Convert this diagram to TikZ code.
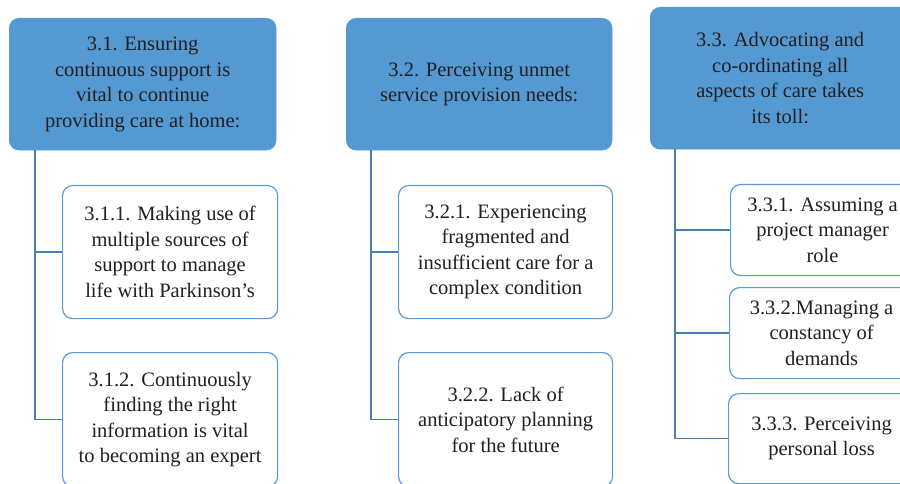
\documentclass[tikz,border=0pt]{standalone}
\usepackage{fontspec}
\setmainfont{Liberation Serif}
\definecolor{headblue}{HTML}{5599D3}
\definecolor{edgeblue}{HTML}{5B9BD5}
\definecolor{lineblue}{HTML}{4A7EB0}
\definecolor{txt}{HTML}{231F20}
\tikzset{
  headbox/.style={fill=headblue, draw=headblue, rounded corners=10pt, anchor=north west, align=center, text=txt, inner sep=0pt, font=\fontsize{20.5}{25.5}\selectfont},
  subbox/.style={fill=white, draw=edgeblue, line width=1.2pt, rounded corners=10pt, anchor=north west, align=center, text=txt, inner sep=0pt, font=\fontsize{20.5}{25.5}\selectfont},
  conn/.style={draw=lineblue, line width=1.4pt}
}
\begin{document}
\begin{tikzpicture}[x=1pt,y=-1pt]
\useasboundingbox (0,0) rectangle (900,484);
\clip (0,0) rectangle (900,484);
% column 1
\node[headbox, minimum width=267pt, minimum height=132pt] (h31) at (9,18) {3.1. Ensuring\\continuous support is\\vital to continue\\providing care at home:};
\node[subbox, minimum width=215pt, minimum height=133pt] (c311) at (62,185) {3.1.1. Making use of\\multiple sources of\\support to manage\\life with Parkinson’s};
\node[subbox, minimum width=215pt, minimum height=134pt] (c312) at (62,352) {3.1.2. Continuously\\finding the right\\information is vital\\to becoming an expert};
\coordinate (l31) at (35,150);
\draw[conn] (l31) |- (c311.west);
\draw[conn] (l31) |- (c312.west);
% column 2
\node[headbox, minimum width=266pt, minimum height=132pt] (h32) at (346,18) {3.2. Perceiving unmet\\service provision needs:};
\node[subbox, minimum width=214pt, minimum height=133pt] (c321) at (398,185) {3.2.1. Experiencing\\fragmented and\\insufficient care for a\\complex condition};
\node[subbox, minimum width=214pt, minimum height=134pt] (c322) at (398,352) {3.2.2. Lack of\\anticipatory planning\\for the future};
\coordinate (l32) at (371,150);
\draw[conn] (l32) |- (c321.west);
\draw[conn] (l32) |- (c322.west);
% column 3
\node[headbox, minimum width=260pt, minimum height=142pt] (h33) at (650,7) {3.3. Advocating and\\co-ordinating all\\aspects of care takes\\its toll:};
\node[subbox, minimum width=184pt, minimum height=91pt] (c331) at (730,184) {3.3.1. Assuming a\\project manager\\role};
\node[subbox, minimum width=184pt, minimum height=91pt] (c332) at (729,287) {3.3.2.Managing a\\constancy of\\demands};
\node[subbox, minimum width=186pt, minimum height=90pt] (c333) at (728,393) {3.3.3. Perceiving\\personal loss};
\coordinate (l33) at (675,149);
\draw[conn] (l33) |- (c331.west);
\draw[conn] (l33) |- (c332.west);
\draw[conn] (l33) |- (c333.west);
\end{tikzpicture}
\end{document}
